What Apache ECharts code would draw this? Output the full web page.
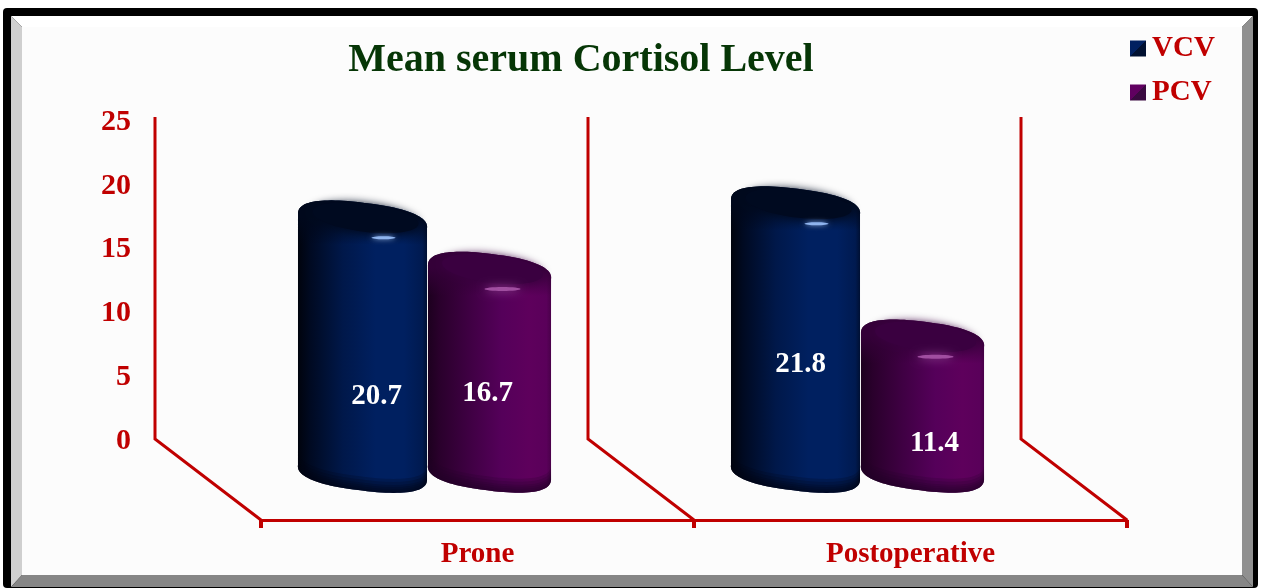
<!DOCTYPE html>
<html>
<head>
<meta charset="utf-8">
<title>Mean serum Cortisol Level</title>
<script src="https://cdn.jsdelivr.net/npm/echarts@6/dist/echarts.min.js"></script>
<style>
  html, body { margin: 0; padding: 0; background: #fff; }
  #main { width: 1261px; height: 588px; }
</style>
</head>
<body>
<div id="main"></div>
<script>
// data
const categories = ['Prone', 'Postoperative'];
const vcv = [20.7, 21.8];
const pcv = [16.7, 11.4];
const yTicks = [0, 5, 10, 15, 20, 25];

const RED = '#c00000';
const FONT = '"Liberation Serif", "Times New Roman", serif';
const TILT = 7 * Math.PI / 180;
const FLOOR_Y = 472.5; // centre of the cylinder foot ellipse

// per series look of the cylinders
const looks = {
  VCV: {
    dx: -62, rx: 65, ry: 18, z: 5,
    side: ['#00030c', '#000a22', '#00184a', '#002060', '#002060', '#001a50', '#000f30'],
    cap: '#000a20', edge: 'rgba(0,8,28,1)', foot: '#000616',
    glow: '#8fb4ee', glowDx: 21, glowRx: 12, glowRy: 1.5, glowBlur: 5,
    labelDx: [14, 5], labelDy: [176, 158]
  },
  PCV: {
    dx: 65, rx: 62, ry: 18, z: 4,
    side: ['#1c001e', '#2a002c', '#400044', '#55005a', '#5e005c', '#5a005a', '#480048'],
    cap: '#3a0040', edge: 'rgba(52,0,56,1)', foot: '#240028',
    glow: '#a04ea0', glowDx: 13, glowRx: 18, glowRy: 2, glowBlur: 10,
    labelDx: [-2, 12], labelDy: [122, 104]
  }
};

// slightly squared ellipse, the bevelled bars have soft shoulders
function ellipsePts(cx, cy, rx, ry, from, to) {
  const pts = [];
  const pow = (v) => Math.sign(v) * Math.pow(Math.abs(v), 0.82);
  for (let i = 0; i <= 48; i++) {
    const t = from + (to - from) * i / 48;
    const ex = rx * pow(Math.cos(t)), ey = ry * pow(Math.sin(t));
    pts.push([cx + ex * Math.cos(TILT) - ey * Math.sin(TILT),
              cy + ex * Math.sin(TILT) + ey * Math.cos(TILT)]);
  }
  return pts;
}

function sideStops(colors) {
  const at = [0, 0.1, 0.35, 0.6, 0.82, 0.96, 1];
  return colors.map((c, i) => ({ offset: at[i], color: c }));
}

function cylinder(look) {
  return function (params, api) {
    const i = params.dataIndex;
    const p = api.coord([api.value(0), api.value(1)]);
    const cx = p[0] + look.dx, topY = p[1];
    const rx = look.rx, ry = look.ry;
    const footHalf = ellipsePts(cx, FLOOR_Y, rx, ry, 0, Math.PI);
    const body = footHalf.concat(ellipsePts(cx, topY, rx, ry, Math.PI, 2 * Math.PI));
    const sideFill = { type: 'linear', global: true, x: cx - rx, y: 0, x2: cx + rx, y2: 0, colorStops: sideStops(look.side) };
    // rounded foot, a few thin layers so it fades out upwards
    const foot = [2, 4, 6, 8, 11, 14].map(up => ({
      type: 'polygon',
      shape: { points: footHalf.concat(ellipsePts(cx, FLOOR_Y - up, rx, ry, Math.PI, 0)) },
      style: { fill: look.foot, opacity: 0.2 }
    }));
    return {
      type: 'group',
      children: [
        { type: 'polygon', shape: { points: body }, style: { fill: sideFill } }
      ].concat(foot, [
        // rounded shoulder
        { type: 'polygon', shape: { points: body }, style: { fill: {
          type: 'linear', global: true, x: 0, y: topY - 4, x2: 0, y2: topY + 24,
          colorStops: [{ offset: 0, color: look.edge }, { offset: 1, color: look.edge.replace(/,[^,]*\)$/, ',0)') }] } } },
        // cap
        { type: 'ellipse', rotation: -TILT, x: cx + 3, y: topY - 3, originX: 0, originY: 0,
          shape: { cx: 0, cy: 0, rx: rx * 0.82, ry: ry * 0.78 },
          style: { fill: look.cap, shadowBlur: 9, shadowColor: look.cap } },
        // highlight
        { type: 'ellipse', shape: { cx: cx + look.glowDx, cy: topY + 17, rx: look.glowRx, ry: look.glowRy },
          style: { fill: look.glow, shadowBlur: look.glowBlur, shadowColor: look.glow } },
        { type: 'text', x: cx + look.labelDx[i], y: topY + look.labelDy[i],
          style: { text: String(api.value(1)), fill: '#fff', font: 'bold 29px ' + FONT, align: 'center', verticalAlign: 'middle' } }
      ])
    };
  };
}

function frame() {
  const L = 3, T = 8, R = 1258, B = 588;
  const il = 11, it = 16, ir = 1253, ib = 587;
  const jl = 22, jt = 27, jr = 1242, jb = 575;
  const poly = (pts, fill) => ({ type: 'polygon', z: -10, silent: true, shape: { points: pts }, style: { fill: fill } });
  return [
    { type: 'rect', z: -11, silent: true, shape: { x: L, y: T, width: R - L, height: B - T, r: 4 }, style: { fill: '#000' } },
    { type: 'rect', z: -10, silent: true, shape: { x: jl, y: jt, width: jr - jl, height: jb - jt }, style: { fill: '#fcfcfc' } },
    poly([[il, it], [ir, it], [jr, jt], [jl, jt]], '#ffffff'),
    poly([[il, it], [jl, jt], [jl, jb], [il, ib]], '#cfcfcf'),
    poly([[ir, it], [jr, jt], [jr, jb], [ir, ib]], '#909090'),
    poly([[il, ib], [jl, jb], [jr, jb], [ir, ib]], '#868686')
  ];
}

function walls() {
  // back wall + floor edge, one per category boundary
  return [0, 1, 2].map(k => ({
    type: 'polyline', z: -5, silent: true,
    shape: { points: [[155 + 433 * k, 117], [155 + 433 * k, 439], [261 + 433 * k, 520]] },
    style: { stroke: RED, lineWidth: 3, fill: null, lineJoin: 'miter' }
  }));
}

function legendMark(a, b) {
  return { type: 'linear', x: 0, y: 0, x2: 1, y2: 1, colorStops: [
    { offset: 0, color: a }, { offset: 0.5, color: a }, { offset: 0.5, color: b }, { offset: 1, color: b }] };
}

const hiddenAxis = { show: false, type: 'value', min: 0, max: 25 };

const chart = echarts.init(document.getElementById('main'), null, { renderer: 'canvas' });
chart.setOption({
  animation: false,
  backgroundColor: '#ffffff',
  title: {
    text: 'Mean serum Cortisol Level',
    left: 576, top: 56, textAlign: 'center', textVerticalAlign: 'middle',
    textStyle: { color: '#063606', fontFamily: FONT, fontWeight: 'bold', fontSize: 40 }
  },
  legend: {
    orient: 'vertical', left: 1130, top: 34, itemWidth: 16, itemHeight: 16, itemGap: 15,
    padding: 0, selectedMode: false,
    textStyle: { color: RED, fontFamily: FONT, fontWeight: 'bold', fontSize: 29, padding: [0, 0, 0, 1] },
    data: [
      { name: 'VCV', icon: 'rect', itemStyle: { color: legendMark('#002060', '#001030') } },
      { name: 'PCV', icon: 'rect', itemStyle: { color: legendMark('#600060', '#3a0a40') } }
    ]
  },
  grid: [
    { left: 155, top: 122, width: 866, height: 319 },  // back wall, value labels
    { left: 261, top: 120, width: 866, height: 400 },  // front edge, category labels
    { left: 208, top: 165.75, width: 866, height: 319.75 } // cylinders
  ],
  xAxis: [
    { gridIndex: 0, type: 'category', data: categories, show: false },
    {
      gridIndex: 1, type: 'category', data: categories,
      axisLine: { lineStyle: { color: RED, width: 3 } },
      axisTick: { show: true, length: 8, lineStyle: { color: RED, width: 4 } },
      axisLabel: { color: RED, fontFamily: FONT, fontWeight: 'bold', fontSize: 29, margin: 20 }
    },
    { gridIndex: 2, type: 'category', data: categories, show: false }
  ],
  yAxis: [
    {
      gridIndex: 0, type: 'value', min: yTicks[0], max: yTicks[yTicks.length - 1], interval: 5,
      axisLine: { show: false }, axisTick: { show: false }, splitLine: { show: false },
      axisLabel: { color: RED, fontFamily: FONT, fontWeight: 'bold', fontSize: 30, margin: 24 }
    },
    Object.assign({ gridIndex: 1 }, hiddenAxis),
    Object.assign({ gridIndex: 2 }, hiddenAxis)
  ],
  graphic: { elements: frame().concat(walls()) },
  series: [
    {
      name: 'VCV', type: 'custom', xAxisIndex: 2, yAxisIndex: 2, z: looks.VCV.z, clip: false,
      itemStyle: { color: '#002060' },
      encode: { x: 0, y: 1 },
      data: vcv.map((v, i) => [i, v]),
      renderItem: cylinder(looks.VCV)
    },
    {
      name: 'PCV', type: 'custom', xAxisIndex: 2, yAxisIndex: 2, z: looks.PCV.z, clip: false,
      itemStyle: { color: '#600060' },
      encode: { x: 0, y: 1 },
      data: pcv.map((v, i) => [i, v]),
      renderItem: cylinder(looks.PCV)
    }
  ]
});
</script>
</body>
</html>
